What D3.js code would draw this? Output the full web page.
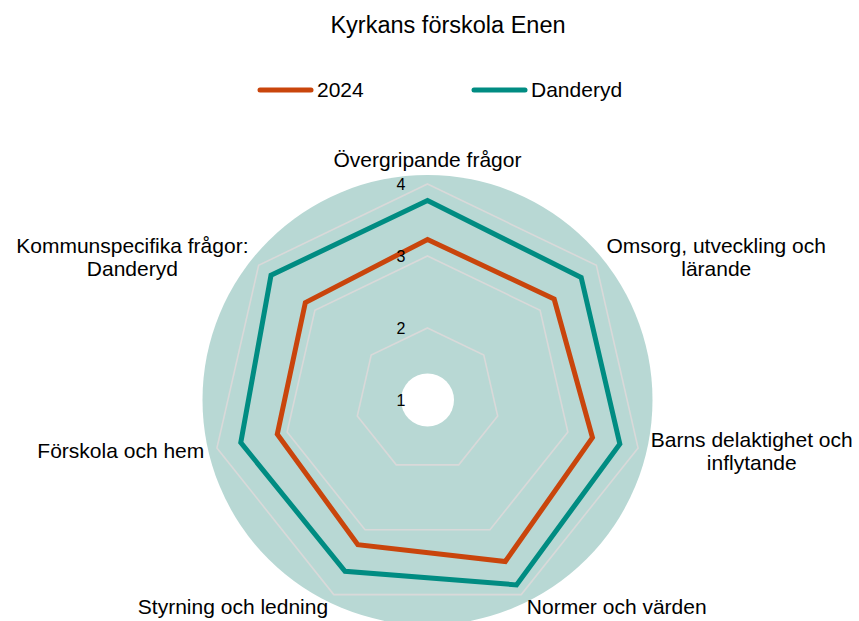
<!DOCTYPE html>
<html>
<head>
<meta charset="utf-8">
<script src="https://cdn.jsdelivr.net/npm/d3@7/dist/d3.min.js"></script>
<style>
  html, body { margin: 0; padding: 0; background: #fff; }
  svg { display: block; font-family: "Liberation Sans", Arial, sans-serif; }
</style>
</head>
<body>
<svg id="chart" width="859" height="621"></svg>
<script>
const title = "Kyrkans förskola Enen";
const categories = [
  "Övergripande frågor",
  "Omsorg, utveckling och\nlärande",
  "Barns delaktighet och\ninflytande",
  "Normer och värden",
  "Styrning och ledning",
  "Förskola och hem",
  "Kommunspecifika frågor:\nDanderyd"
];
const seriesNames = ["2024", "Danderyd"];
const values2024 = [3.23, 3.25, 3.35, 3.49, 3.23, 3.14, 3.17];
const valuesDanderyd = [3.77, 3.73, 3.74, 3.85, 3.64, 3.66, 3.78];
const tickValues = [1, 2, 3, 4];
const colors = ["#C9450C", "#008C82"];

const svg = d3.select("#chart");
const W = 859, H = 621;
const cx = 427.5, cy = 400;

const r = d3.scaleLinear().domain([1, 4]).range([0, 216]);
const angle = d3.scalePoint().domain(d3.range(categories.length)).range([0, 2 * Math.PI * (categories.length - 1) / categories.length]);

const g = svg.append("g").attr("transform", `translate(${cx},${cy})`);

// background disc
g.append("circle").attr("r", r(4.125)).attr("fill", "#B8D8D4");
// centre hole
g.append("circle").attr("r", 26.5).attr("fill", "#ffffff");

// grid polygons
const radial = d3.lineRadial().angle((d, i) => angle(i)).radius(d => r(d)).curve(d3.curveLinearClosed);
tickValues.filter(t => t > 1).forEach(t => {
  g.append("path")
    .attr("d", radial(categories.map(() => t)))
    .attr("fill", "none")
    .attr("stroke", "#D9D9D9")
    .attr("stroke-width", 1.6);
});

// series
[values2024, valuesDanderyd].forEach((vals, k) => {
  g.append("path")
    .attr("d", radial(vals))
    .attr("fill", "none")
    .attr("stroke", colors[k])
    .attr("stroke-width", 5)
    .attr("stroke-linejoin", "miter");
});

// tick labels
g.selectAll("text.tick").data(tickValues).join("text")
  .attr("class", "tick")
  .attr("x", -26.5)
  .attr("y", d => -r(d))
  .attr("dy", "0.35em")
  .attr("text-anchor", "middle")
  .attr("font-size", 16)
  .attr("fill", "#000")
  .text(d => d);

// category labels
const labelR = 229;
const fs = 21;
categories.forEach((c, i) => {
  const a = angle(i);
  const s = Math.sin(a), co = -Math.cos(a);
  const x = labelR * s, y = labelR * co;
  const lines = c.split("\n");
  const t = g.append("text").attr("font-size", fs).attr("fill", "#000");
  const tsp = lines.map((ln, j) => t.append("tspan").text(ln));
  const widths = tsp.map(ts => ts.node().getComputedTextLength());
  const bw = d3.max(widths);
  let left;
  if (Math.abs(s) < 0.05) left = x - bw / 2;
  else if (s > 0) left = x;
  else left = x - bw;
  const lh = fs * 1.11;
  const blockH = lh * lines.length;
  let top;
  if (Math.abs(s) < 0.05 && co < 0) top = y - blockH;
  else top = y - blockH / 2;
  tsp.forEach((ts, j) => {
    ts.attr("x", left + bw / 2)
      .attr("y", top + lh * j + lh / 2)
      .attr("dy", "0.35em")
      .attr("text-anchor", "middle");
  });
});

// title
svg.append("text")
  .attr("x", 448).attr("y", 25)
  .attr("dy", "0.35em")
  .attr("text-anchor", "middle")
  .attr("font-size", 23.5)
  .attr("fill", "#000")
  .text(title);

// legend
const legendX = [258, 472];
seriesNames.forEach((n, k) => {
  const lg = svg.append("g").attr("transform", `translate(${legendX[k]},90)`);
  lg.append("line").attr("x1", 2).attr("x2", 53).attr("y1", 0).attr("y2", 0)
    .attr("stroke", colors[k]).attr("stroke-width", 5).attr("stroke-linecap", "round");
  lg.append("text").attr("x", 59).attr("y", 0).attr("dy", "0.35em")
    .attr("font-size", 21).attr("fill", "#000").text(n);
});
</script>
</body>
</html>
